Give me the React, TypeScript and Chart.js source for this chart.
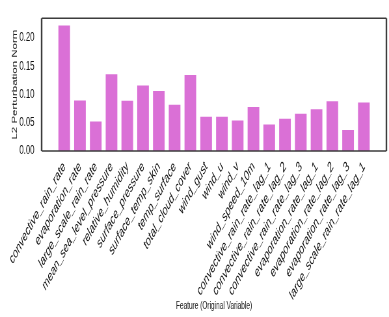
import React, { useEffect, useRef } from "react";
import { Chart, registerables } from "chart.js";

Chart.register(...registerables);

const features = [
  "convective_rain_rate",
  "evaporation_rate",
  "large_scale_rain_rate",
  "mean_sea_level_pressure",
  "relative_humidity",
  "surface_pressure",
  "surface_temp_skin",
  "temp_surface",
  "total_cloud_cover",
  "wind_gust",
  "wind_u",
  "wind_v",
  "wind_speed_10m",
  "convective_rain_rate_lag_1",
  "convective_rain_rate_lag_2",
  "convective_rain_rate_lag_3",
  "evaporation_rate_lag_1",
  "evaporation_rate_lag_2",
  "evaporation_rate_lag_3",
  "large_scale_rain_rate_lag_1",
];

const l2Norm = [
  0.222, 0.0895, 0.052, 0.136, 0.089, 0.116, 0.106, 0.082, 0.1345, 0.0606,
  0.0606, 0.054, 0.078, 0.047, 0.057, 0.066, 0.074, 0.088, 0.037, 0.086,
];

const yTicks = [0, 0.05, 0.1, 0.15, 0.2];

const FONT = "'Liberation Sans', Arial, Helvetica, sans-serif";
const SQUEEZE = 0.65;
const W = 389;
const H = 317;

const frame = {
  id: "frame",
  afterDraw(chart: any) {
    const { ctx, chartArea } = chart;
    const { left, right, top, bottom } = chartArea;
    ctx.save();
    ctx.strokeStyle = "#3c3c3c";
    ctx.lineWidth = 1.6;
    ctx.beginPath();
    ctx.moveTo(left, top);
    ctx.lineTo(right, top);
    ctx.moveTo(left, bottom);
    ctx.lineTo(right, bottom);
    ctx.stroke();
    ctx.lineWidth = 2.4;
    ctx.beginPath();
    ctx.moveTo(left, top);
    ctx.lineTo(left, bottom);
    ctx.moveTo(right, top);
    ctx.lineTo(right, bottom);
    ctx.stroke();
    ctx.restore();
  },
};

export default function App() {
  const ref = useRef<HTMLCanvasElement | null>(null);

  useEffect(() => {
    document.body.style.margin = "0";
    const canvas = ref.current;
    if (!canvas) return;
    const chart = new Chart(canvas, {
      type: "bar",
      data: {
        datasets: [
          {
            data: l2Norm.map((v, i) => ({ x: i, y: v })),
            backgroundColor: "#da70d6",
            borderWidth: 0,
            barPercentage: 0.74,
            categoryPercentage: 1,
          },
        ],
      },
      options: {
        responsive: false,
        animation: false,
        devicePixelRatio: 1,
        layout: { autoPadding: false, padding: { left: 8, right: 4, top: 5, bottom: 0 } },
        plugins: { legend: { display: false }, tooltip: { enabled: false } },
        scales: {
          x: {
            type: "linear",
            offset: false,
            min: -1.43,
            max: features.length - 1 + 1.43,
            grid: { display: false, drawTicks: false, offset: false },
            border: { display: false },
            afterBuildTicks: (scale: any) => {
              scale.ticks = features.map((_, i) => ({ value: i }));
            },
            afterFit: (scale: any) => {
              scale.paddingLeft = 0;
              scale.paddingRight = 0;
              scale.height = 166;
            },
            ticks: {
              autoSkip: false,
              minRotation: 50,
              maxRotation: 50,
              padding: 8,
              color: "#111",
              font: { family: FONT, size: 13.8, style: "italic" },
              callback: (v: any) => features[Math.round(Number(v))] ?? "",
            },
            title: {
              display: true,
              text: "Feature (Original Variable)",
              color: "#222",
              font: { family: FONT, size: 10 },
              padding: { top: 4, bottom: 5 },
            },
          },
          y: {
            min: 0,
            max: 0.235,
            grid: { display: false, drawTicks: false },
            border: { display: false },
            afterBuildTicks: (scale: any) => {
              scale.ticks = yTicks.map((v) => ({ value: v }));
            },
            afterFit: (scale: any) => {
              scale.width = 56;
            },
            ticks: {
              padding: 11,
              color: "#111",
              font: { family: FONT, size: 12 },
              callback: (v: any) => Number(v).toFixed(2),
            },
            title: {
              display: true,
              text: "L2 Perturbation Norm",
              color: "#222",
              font: { family: FONT, size: 11.5 },
              padding: { top: 8, bottom: 0 },
            },
          },
        },
      },
      plugins: [frame],
    });
    return () => chart.destroy();
  }, []);

  return (
    <div style={{ width: W, height: H }}>
      <canvas
        ref={ref}
        width={Math.round(W / SQUEEZE)}
        height={H}
        style={{ width: `${W}px`, height: `${H}px`, display: "block" }}
      />
    </div>
  );
}
